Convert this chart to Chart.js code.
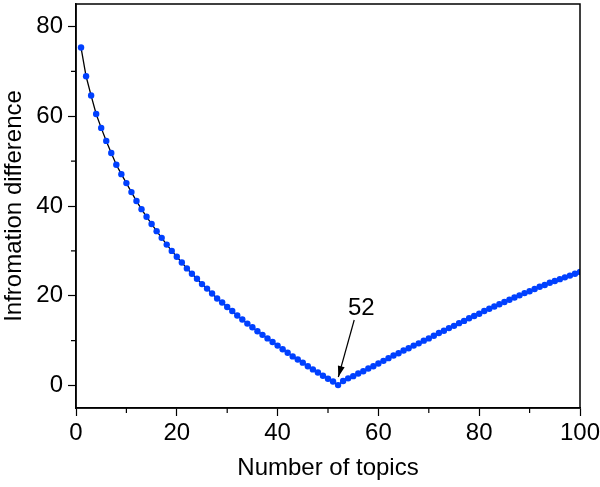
<!DOCTYPE html>
<html>
<head>
<meta charset="utf-8">
<script src="https://cdn.jsdelivr.net/npm/chart.js@4"></script>
<style>
  html, body { margin: 0; padding: 0; background: #fff; }
  #wrap { width: 600px; height: 487px; }
</style>
</head>
<body>
<div id="wrap"><canvas id="chart" width="600" height="487"></canvas></div>
<script>
/* values */
const topics = [];
for (let i = 1; i <= 100; i++) topics.push(i);
const infoDiff = [
  75.3, 68.9, 64.6, 60.5, 57.4, 54.5, 51.8, 49.2, 47.1, 45.1,
  43.1, 41.1, 39.3, 37.6, 36.0, 34.4, 32.9, 31.4, 30.0, 28.7,
  27.4, 26.1, 24.9, 23.8, 22.6, 21.6, 20.5, 19.4, 18.5, 17.5,
  16.6, 15.6, 14.7, 13.8, 13.0, 12.1, 11.3, 10.5, 9.7, 8.9,
  8.1, 7.3, 6.5, 5.8, 5.1, 4.3, 3.6, 2.9, 2.2, 1.5,
  0.9, 0.1, 1.0, 1.6, 2.1, 2.7, 3.2, 3.8, 4.3, 4.9,
  5.5, 6.1, 6.7, 7.2, 7.8, 8.3, 8.9, 9.4, 10.0, 10.5,
  11.1, 11.7, 12.2, 12.8, 13.3, 13.9, 14.4, 15.0, 15.5, 16.0,
  16.6, 17.1, 17.6, 18.1, 18.6, 19.1, 19.6, 20.1, 20.6, 21.0,
  21.5, 22.0, 22.4, 22.9, 23.3, 23.7, 24.1, 24.5, 24.9, 25.3
];
const xMinor = [10, 30, 50, 70, 90];
const yMinor = [10, 30, 50, 70];
// annotation "52" with arrow (data coords)
const noteText = '52';
const noteAt = { x: 56.6, y: 17.2 };
const arrowFrom = { x: 55.2, y: 14.6 };
const arrowTo = { x: 52.05, y: 1.9 };

const FONT = "'Liberation Sans', Arial, sans-serif";

const extras = {
  id: 'extras',
  afterDraw(chart) {
    const { ctx, chartArea: a, scales: { x, y } } = chart;
    ctx.save();
    // box top/right
    ctx.strokeStyle = '#000';
    ctx.lineWidth = 1.5;
    ctx.strokeRect(a.left, a.top, a.right - a.left, a.bottom - a.top);
    // minor ticks
    ctx.lineWidth = 1.2;
    ctx.beginPath();
    xMinor.forEach(v => {
      const px = x.getPixelForValue(v);
      ctx.moveTo(px, a.bottom); ctx.lineTo(px, a.bottom + 5);
    });
    yMinor.forEach(v => {
      const py = y.getPixelForValue(v);
      ctx.moveTo(a.left, py); ctx.lineTo(a.left - 5, py);
    });
    ctx.stroke();
    // arrow
    const x1 = x.getPixelForValue(arrowFrom.x), y1 = y.getPixelForValue(arrowFrom.y);
    const x2 = x.getPixelForValue(arrowTo.x), y2 = y.getPixelForValue(arrowTo.y);
    ctx.lineWidth = 1.2;
    ctx.beginPath(); ctx.moveTo(x1, y1); ctx.lineTo(x2, y2); ctx.stroke();
    const ang = Math.atan2(y2 - y1, x2 - x1);
    const L = 11, W = 3.5;
    ctx.fillStyle = '#000';
    ctx.beginPath();
    ctx.moveTo(x2, y2);
    ctx.lineTo(x2 - L * Math.cos(ang) + W * Math.sin(ang), y2 - L * Math.sin(ang) - W * Math.cos(ang));
    ctx.lineTo(x2 - L * Math.cos(ang) - W * Math.sin(ang), y2 - L * Math.sin(ang) + W * Math.cos(ang));
    ctx.closePath(); ctx.fill();
    // label
    ctx.font = '24px ' + FONT;
    ctx.textAlign = 'center';
    ctx.textBaseline = 'middle';
    ctx.fillText(noteText, x.getPixelForValue(noteAt.x), y.getPixelForValue(noteAt.y));
    ctx.restore();
  }
};

new Chart(document.getElementById('chart'), {
  type: 'line',
  data: {
    labels: topics,
    datasets: [{
      data: topics.map((t, i) => ({ x: t, y: infoDiff[i] })),
      borderColor: '#000',
      borderWidth: 1.3,
      pointBackgroundColor: '#0040ff',
      pointBorderWidth: 0,
      pointRadius: 3.2,
      tension: 0,
      fill: false
    }]
  },
  options: {
    responsive: false,
    animation: false,
    layout: { padding: { top: 1, right: 20, left: 0, bottom: 0 } },
    plugins: { legend: { display: false }, tooltip: { enabled: false } },
    scales: {
      x: {
        type: 'linear', min: 0, max: 100,
        afterFit: s => { s.height = 79; s.paddingLeft = 0; s.paddingRight = 0; },
        grid: { drawOnChartArea: false, tickLength: 8, tickColor: '#000', tickWidth: 1.2 },
        border: { color: '#000', width: 1.5 },
        ticks: { stepSize: 20, color: '#000', padding: 3, maxRotation: 0, font: { family: FONT, size: 24 } },
        title: { display: true, text: 'Number of topics', color: '#000', padding: { top: 6 }, font: { family: FONT, size: 24 } }
      },
      y: {
        type: 'linear', min: -5, max: 85,
        afterFit: s => { s.width = 76; s.paddingTop = 0; s.paddingBottom = 0; },
        grid: { drawOnChartArea: false, tickLength: 8, tickColor: '#000', tickWidth: 1.2 },
        border: { color: '#000', width: 1.5 },
        ticks: { stepSize: 20, includeBounds: false, color: '#000', padding: 5, font: { family: FONT, size: 24 } },
        title: { display: true, text: 'Infromation difference', color: '#000', padding: { top: 0, bottom: 2 }, font: { family: FONT, size: 24 } }
      }
    }
  },
  plugins: [extras]
});
</script>
</body>
</html>
